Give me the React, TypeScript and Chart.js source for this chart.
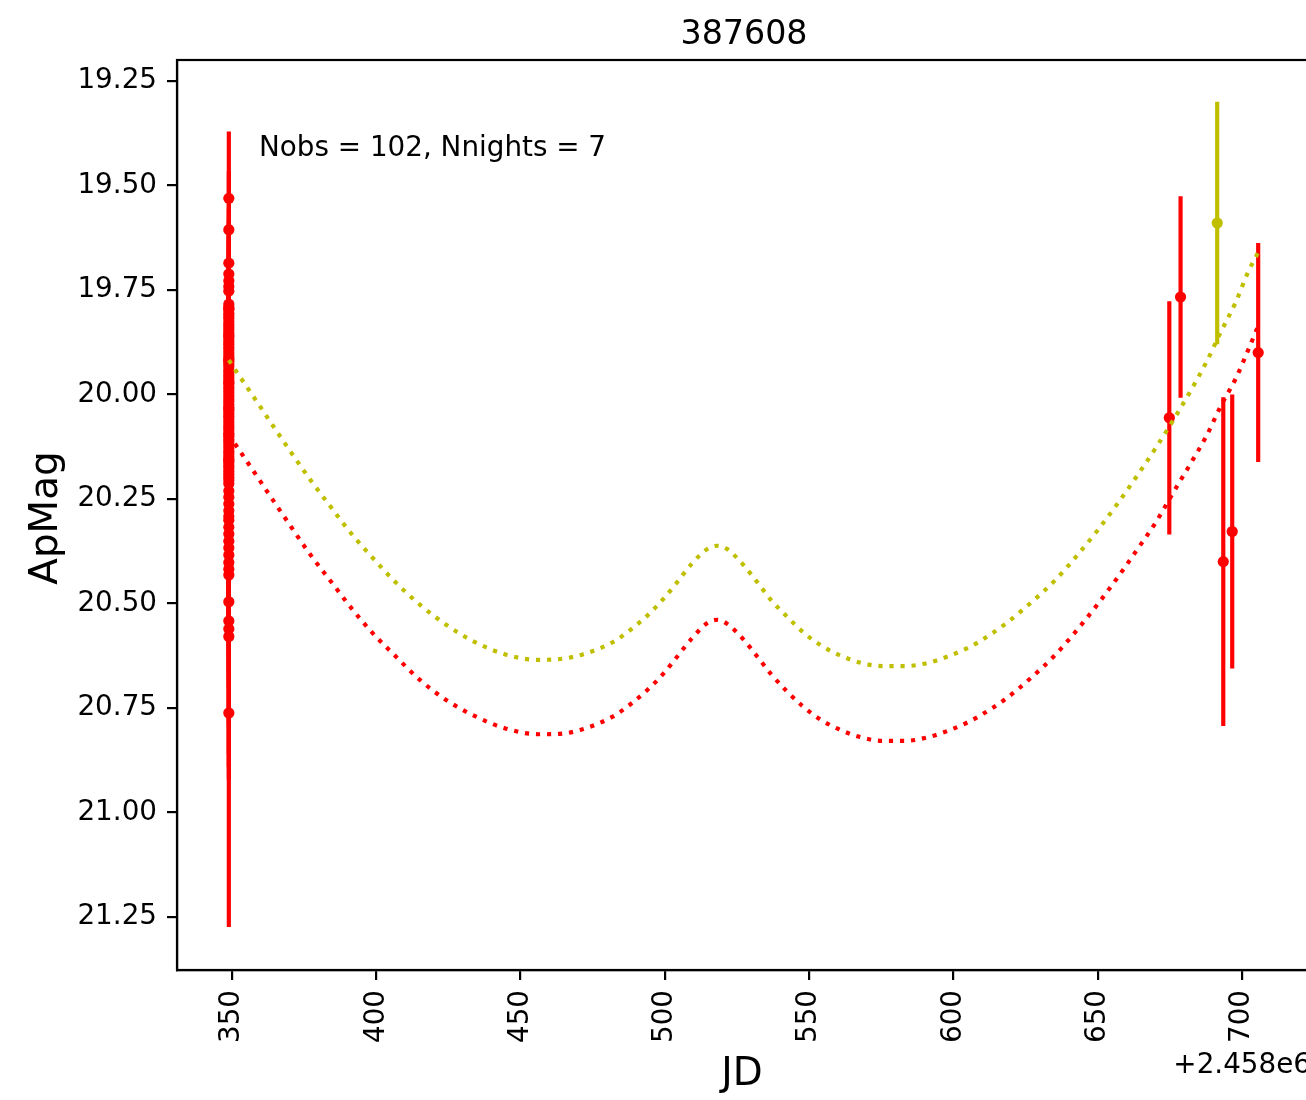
import React, { useEffect, useRef } from "react";
import { Chart, registerables } from "chart.js";

Chart.register(...registerables);

// ---- text ----
const TITLE = "387608";
const NOTE = "Nobs = 102, Nnights = 7";
const X_LABEL = "JD";
const Y_LABEL = "ApMag";
const JD_OFFSET_LABEL = "+2.458e6";

// ---- axes (JD given as days after 2458000) ----
const X_TICKS = [350, 400, 450, 500, 550, 600, 650, 700];
const Y_TICKS = [19.25, 19.5, 19.75, 20.0, 20.25, 20.5, 20.75, 21.0, 21.25];
const X_MIN = 330.94;
const X_MAX = 723.9;
const Y_MIN = 19.2;
const Y_MAX = 21.377;

// ---- first night: all exposures taken at the same JD ----
const NIGHT1_JD = 348.9;
const NIGHT1_MAG = [
  19.531, 19.606, 19.686, 19.712, 19.728, 19.742, 19.753,
  19.784, 19.791, 19.797, 19.806, 19.812, 19.818, 19.826, 19.833, 19.839, 19.845,
  19.852, 19.861, 19.867, 19.874, 19.88, 19.887, 19.893, 19.901, 19.908, 19.914,
  19.921, 19.927, 19.933, 19.942, 19.948, 19.955, 19.961, 19.968, 19.975, 19.983,
  19.989, 19.996, 20.004, 20.011, 20.017, 20.024, 20.031, 20.039, 20.046, 20.052,
  20.058, 20.066, 20.073, 20.079, 20.085, 20.093, 20.101, 20.108, 20.114, 20.121,
  20.128, 20.136, 20.142, 20.149, 20.155, 20.163, 20.17, 20.176, 20.184, 20.191,
  20.198, 20.205, 20.213,
  20.231, 20.246, 20.262, 20.278, 20.292, 20.301, 20.318, 20.334, 20.351, 20.367,
  20.384, 20.402, 20.418, 20.432, 20.496, 20.542, 20.561, 20.579, 20.762,
  19.795, 19.858, 19.917, 19.972, 20.035, 20.097, 20.159,
];
const NIGHT1_ERR = [
  0.16, 0.14, 0.13, 0.13, 0.125, 0.12, 0.122,
  0.118, 0.121, 0.124, 0.119, 0.126, 0.122, 0.128, 0.124, 0.13, 0.127,
  0.131, 0.129, 0.134, 0.132, 0.136, 0.133, 0.138, 0.135, 0.14, 0.137,
  0.142, 0.139, 0.145, 0.141, 0.147, 0.144, 0.15, 0.146, 0.152, 0.149,
  0.155, 0.151, 0.157, 0.154, 0.16, 0.156, 0.162, 0.159, 0.165, 0.161,
  0.167, 0.164, 0.17, 0.166, 0.172, 0.169, 0.175, 0.171, 0.178, 0.174,
  0.18, 0.177, 0.183, 0.179, 0.186, 0.182, 0.188, 0.185, 0.191, 0.187,
  0.194, 0.19, 0.197,
  0.2, 0.205, 0.209, 0.214, 0.218, 0.221, 0.226, 0.232, 0.238, 0.243,
  0.249, 0.256, 0.262, 0.268, 0.295, 0.318, 0.33, 0.342, 0.512,
  0.121, 0.133, 0.14, 0.151, 0.158, 0.168, 0.18,
];

// ---- later nights, r band (red) ----
const LATE_R_JD = [674.8, 678.7, 693.5, 696.6, 705.6];
const LATE_R_MAG = [20.056, 19.767, 20.4, 20.328, 19.9];
const LATE_R_ERR = [0.279, 0.241, 0.393, 0.328, 0.262];

// ---- later night, g band (olive) ----
const LATE_G_JD = [691.4];
const LATE_G_MAG = [19.59];
const LATE_G_ERR = [0.29];

// ---- model light curves ----
const MODEL_JD = [
  348.9, 351.0, 357.6, 364.0, 370.4, 377.0, 384.0, 391.1, 398.6, 406.6,
  415.1, 424.2, 434.0, 444.7, 456.1, 463.7, 471.5, 481.9, 488.3, 494.1,
  499.5, 504.3, 509.2, 514.7, 518.3, 521.6, 527.2, 532.0, 536.8, 542.1,
  547.6, 553.5, 560.3, 567.8, 575.5, 582.9, 590.7, 598.0, 605.1, 608.6,
  617.8, 626.9, 635.3, 643.0, 650.2, 657.1, 663.8, 670.3, 676.4, 682.3,
  687.7, 692.7, 697.9, 702.0, 705.6,
];
const MODEL_G = [
  19.918, 19.94, 20.007, 20.073, 20.138, 20.203, 20.267, 20.331, 20.39, 20.449,
  20.503, 20.551, 20.592, 20.622, 20.635, 20.633, 20.622, 20.593, 20.562, 20.528,
  20.489, 20.449, 20.406, 20.37, 20.362, 20.37, 20.408, 20.449, 20.492, 20.53,
  20.567, 20.598, 20.623, 20.642, 20.65, 20.65, 20.643, 20.627, 20.606, 20.593,
  20.55, 20.498, 20.444, 20.384, 20.323, 20.259, 20.193, 20.126, 20.059, 19.99,
  19.922, 19.85, 19.778, 19.709, 19.66,
];
const MODEL_R = [
  20.096, 20.118, 20.185, 20.251, 20.316, 20.382, 20.445, 20.509, 20.57, 20.626,
  20.683, 20.731, 20.769, 20.799, 20.813, 20.812, 20.801, 20.771, 20.74, 20.706,
  20.668, 20.627, 20.585, 20.547, 20.539, 20.549, 20.586, 20.627, 20.669, 20.709,
  20.745, 20.776, 20.801, 20.82, 20.829, 20.829, 20.821, 20.805, 20.784, 20.771,
  20.73, 20.678, 20.623, 20.562, 20.5, 20.436, 20.37, 20.304, 20.232, 20.164,
  20.099, 20.027, 19.961, 19.896, 19.836,
];

const FONT = '"DejaVu Sans", sans-serif';
const RED = "#ff0000";
const OLIVE = "#bfbf00";
const LW = 4.17;

const pts = (xs: number[], ys: number[]) => xs.map((x, i) => ({ x, y: ys[i] }));

// vertical error bars for every dataset that carries an `errors` array
const errorBarPlugin = {
  id: "errorBars",
  beforeDatasetsDraw(chart: any) {
    const { ctx, chartArea, scales } = chart;
    ctx.save();
    ctx.beginPath();
    ctx.rect(chartArea.left, chartArea.top, chartArea.right - chartArea.left, chartArea.bottom - chartArea.top);
    ctx.clip();
    ctx.lineWidth = LW;
    ctx.lineCap = "butt";
    chart.data.datasets.forEach((ds: any) => {
      if (!ds.errors) return;
      ctx.strokeStyle = ds.backgroundColor;
      ds.data.forEach((p: any, i: number) => {
        const e = ds.errors[i];
        const px = scales.x.getPixelForValue(p.x);
        ctx.beginPath();
        ctx.moveTo(px, scales.y.getPixelForValue(p.y - e));
        ctx.lineTo(px, scales.y.getPixelForValue(p.y + e));
        ctx.stroke();
      });
    });
    ctx.restore();
  },
};

// frame, title, note and axis labels
const decorPlugin = {
  id: "decor",
  afterDraw(chart: any) {
    const { ctx, chartArea } = chart;
    const { left, right, top, bottom } = chartArea;
    ctx.save();
    ctx.strokeStyle = "#000";
    ctx.lineWidth = 2.2;
    ctx.strokeRect(left, top, right - left, bottom - top);
    ctx.fillStyle = "#000";
    ctx.textBaseline = "alphabetic";

    ctx.font = `33.3px ${FONT}`;
    ctx.textAlign = "center";
    ctx.fillText(TITLE, (left + right) / 2, top - 16.5);

    ctx.font = `27.8px ${FONT}`;
    ctx.textAlign = "left";
    ctx.fillText(NOTE, left + 82, top + 96);

    ctx.textAlign = "right";
    ctx.fillText(JD_OFFSET_LABEL, right, 1073);

    ctx.font = `38.9px ${FONT}`;
    ctx.textAlign = "center";
    ctx.fillText(X_LABEL, (left + right) / 2 - 2, 1085);

    ctx.translate(57, (top + bottom) / 2 + 3);
    ctx.rotate(-Math.PI / 2);
    ctx.fillText(Y_LABEL, 0, 0);
    ctx.restore();
  },
};

const axisCommon = {
  grid: {
    display: true,
    drawOnChartArea: false,
    drawTicks: true,
    tickLength: 10,
    lineWidth: 2.2,
    color: "#000",
    tickColor: "#000",
  },
  border: { display: true, color: "#000", width: 2.2 },
};

export default function App() {
  const ref = useRef<HTMLCanvasElement>(null);

  useEffect(() => {
    if (!ref.current) return;
    const chart = new Chart(ref.current, {
      type: "scatter",
      data: {
        datasets: [
          {
            type: "line",
            data: pts(MODEL_JD, MODEL_G),
            borderColor: OLIVE,
            borderWidth: LW,
            borderDash: [LW, LW * 1.65],
            borderCapStyle: "butt",
            pointRadius: 0,
            cubicInterpolationMode: "monotone",
            fill: false,
            order: 0,
          },
          {
            type: "line",
            data: pts(MODEL_JD, MODEL_R),
            borderColor: RED,
            borderWidth: LW,
            borderDash: [LW, LW * 1.65],
            borderCapStyle: "butt",
            pointRadius: 0,
            cubicInterpolationMode: "monotone",
            fill: false,
            order: 0,
          },
          {
            data: NIGHT1_MAG.map((m) => ({ x: NIGHT1_JD, y: m })),
            errors: NIGHT1_ERR,
            backgroundColor: RED,
            borderWidth: 0,
            pointRadius: 5.6,
            order: 1,
          } as any,
          {
            data: pts(LATE_R_JD, LATE_R_MAG),
            errors: LATE_R_ERR,
            backgroundColor: RED,
            borderWidth: 0,
            pointRadius: 5.6,
            order: 1,
          } as any,
          {
            data: pts(LATE_G_JD, LATE_G_MAG),
            errors: LATE_G_ERR,
            backgroundColor: OLIVE,
            borderWidth: 0,
            pointRadius: 5.6,
            order: 1,
          } as any,
        ],
      },
      options: {
        responsive: false,
        animation: false,
        devicePixelRatio: 1,
        events: [],
        layout: { padding: { top: 60, right: 9, left: 0, bottom: 0 } },
        plugins: {
          legend: { display: false },
          tooltip: { enabled: false },
          title: { display: false },
        },
        scales: {
          x: {
            type: "linear",
            min: X_MIN,
            max: X_MAX,
            afterBuildTicks: (s: any) => {
              s.ticks = X_TICKS.map((v) => ({ value: v }));
            },
            afterFit: (s: any) => {
              s.height = 130;
            },
            ticks: {
              autoSkip: false,
              minRotation: 90,
              maxRotation: 90,
              padding: 10,
              color: "#000",
              font: { family: FONT, size: 27.8 },
              callback: (v: any) => String(v),
            },
            ...axisCommon,
          },
          y: {
            type: "linear",
            reverse: true,
            min: Y_MIN,
            max: Y_MAX,
            afterBuildTicks: (s: any) => {
              s.ticks = Y_TICKS.map((v) => ({ value: v }));
            },
            afterFit: (s: any) => {
              s.width = 177;
            },
            ticks: {
              autoSkip: false,
              padding: 10,
              color: "#000",
              font: { family: FONT, size: 27.8 },
              callback: (v: any) => Number(v).toFixed(2),
            },
            ...axisCommon,
          },
        },
      } as any,
      plugins: [errorBarPlugin, decorPlugin],
    });
    return () => chart.destroy();
  }, []);

  return (
    <div
      style={{
        position: "fixed",
        left: 0,
        top: 0,
        width: 1306,
        height: 1100,
        overflow: "hidden",
        background: "#fff",
      }}
    >
      <canvas
        ref={ref}
        width={1320}
        height={1100}
        style={{ display: "block", width: 1320, height: 1100 }}
      />
    </div>
  );
}
